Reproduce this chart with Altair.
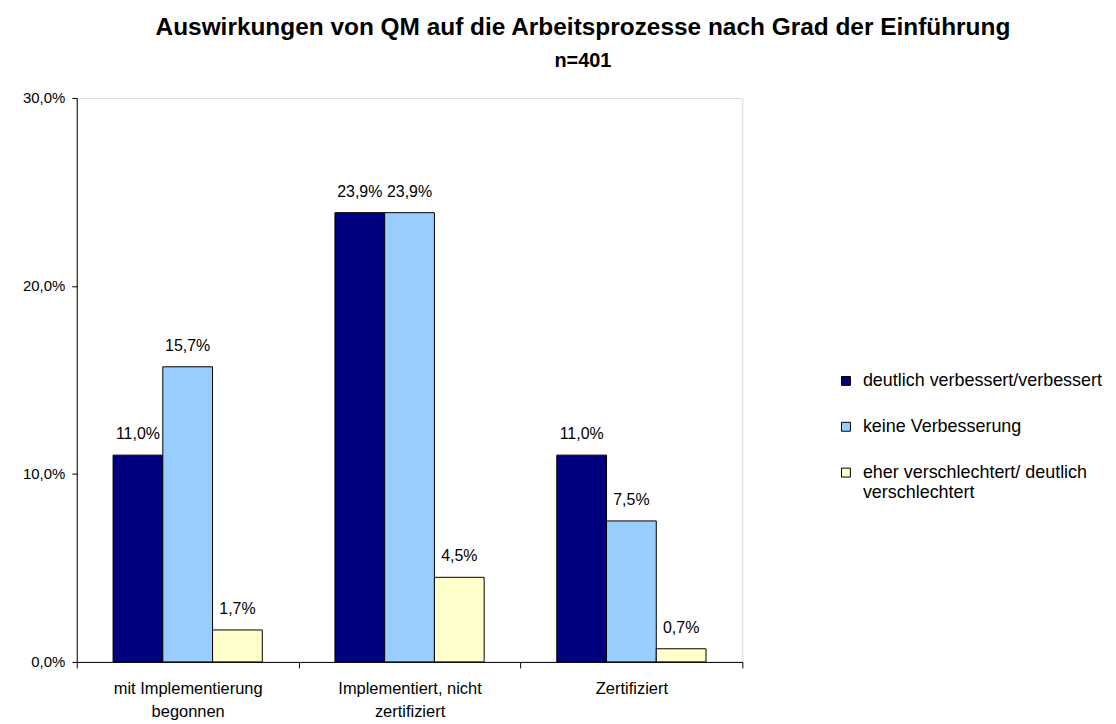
import altair as alt
import pandas as pd

categories = ["mit Implementierung begonnen", "Implementiert, nicht zertifiziert", "Zertifiziert"]
series = ["deutlich verbessert/verbessert", "keine Verbesserung", "eher verschlechtert/ deutlich verschlechtert"]
s_verbessert = [0.110, 0.239, 0.110]
s_keine = [0.157, 0.239, 0.075]
s_verschlechtert = [0.017, 0.045, 0.007]
colors = ["#000080", "#99CCFF", "#FFFFCC"]
y_ticks = [0.0, 0.1, 0.2, 0.3]

rows = []
for vals, s in zip([s_verbessert, s_keine, s_verschlechtert], series):
    for c, v in zip(categories, vals):
        rows.append({"Kategorie": c, "Serie": s, "Wert": v})
df = pd.DataFrame(rows)

FONT = "Liberation Sans"

x_label_expr = (
    "datum.value == 'mit Implementierung begonnen' ? ['mit Implementierung', 'begonnen'] : "
    "datum.value == 'Implementiert, nicht zertifiziert' ? ['Implementiert, nicht', 'zertifiziert'] : datum.value"
)
legend_label_expr = (
    "datum.value == 'eher verschlechtert/ deutlich verschlechtert' ? "
    "['eher verschlechtert/ deutlich', 'verschlechtert'] : datum.value"
)

x = alt.X("Kategorie:N", sort=categories, title=None,
          scale=alt.Scale(paddingInner=0, paddingOuter=0),
          axis=alt.Axis(labelAngle=0, tickBand="extent", labelExpr=x_label_expr,
                        labelFontSize=16.5, labelLineHeight=23, labelPadding=13,
                        tickSize=6, domainColor="black", tickColor="black",
                        labelColor="black", labelFont=FONT))
xo = alt.XOffset("Serie:N", sort=series, scale=alt.Scale(paddingInner=0, paddingOuter=0.73))
y = alt.Y("Wert:Q", title=None,
          scale=alt.Scale(domain=[0, 0.3], nice=False),
          axis=alt.Axis(values=y_ticks, grid=False, tickSize=5, labelPadding=7,
                        labelExpr="replace(format(datum.value, '.1%'), '.', ',')",
                        labelFontSize=15, labelColor="black", labelFont=FONT,
                        domainColor="black", tickColor="black"))

base = alt.Chart(df)

bars = base.mark_bar(stroke="black", strokeWidth=1).encode(
    x=x, xOffset=xo, y=y,
    color=alt.Color("Serie:N", sort=series, title=None,
                    scale=alt.Scale(domain=series, range=colors),
                    legend=alt.Legend(orient="none", legendX=763, legendY=275,
                                      symbolType="square", symbolSize=80,
                                      symbolStrokeColor="black", symbolStrokeWidth=1,
                                      labelFontSize=18, labelFont=FONT, labelColor="black",
                                      labelExpr=legend_label_expr, labelLimit=400,
                                      labelOffset=8, rowPadding=28)),
)

texts = base.transform_calculate(
    label="replace(format(datum.Wert, '.1%'), '.', ',')"
).mark_text(baseline="alphabetic", dy=-16, fontSize=16, font=FONT, color="black").encode(
    x=x, xOffset=xo, y=y, text="label:N"
)

chart = alt.layer(bars, texts).properties(
    width=668, height=566,
    padding={"left": 14, "top": 5, "right": 5, "bottom": 0},
    title=alt.TitleParams(
        text="Auswirkungen von QM auf die Arbeitsprozesse nach Grad der Einführung",
        subtitle="n=401", fontSize=24.5, font=FONT, fontWeight="bold", color="black",
        subtitleFontSize=20, subtitleFont=FONT, subtitleFontWeight="bold",
        subtitleColor="black", subtitlePadding=11, anchor="middle", frame="group",
        dx=174, offset=19),
).configure_view(stroke="transparent", strokeWidth=0).configure(background="white")

chart.save("out.html", embed_options={"renderer": "svg", "actions": False})
